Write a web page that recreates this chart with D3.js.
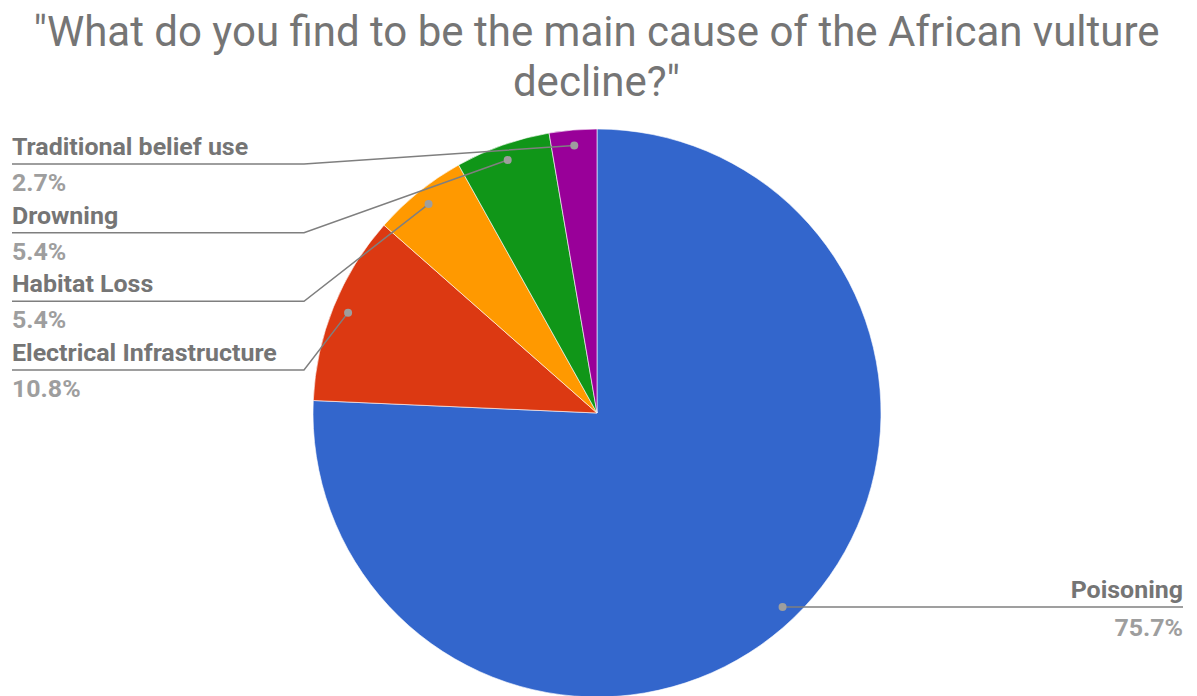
<!DOCTYPE html>
<html lang="en">
<head>
<meta charset="UTF-8">
<title>African vulture decline</title>
<script src="https://d3js.org/d3.v7.min.js"></script>
<style>
    body{margin:0;background:#fff;}
    svg{display:block;font-family:Roboto,"Noto Sans",sans-serif;}
</style>
</head>
<body>
<div id="chart"></div>
<script>
const causes=['Poisoning','Electrical Infrastructure','Habitat Loss','Drowning','Traditional belief use'];
const shares=[75.7,10.8,5.4,5.4,2.7];
const colors=['#3366cc','#dc3912','#ff9900','#109618','#990099'];
const titleLines=['"What do you find to be the main cause of the African vulture','decline?"'];

const width=1197,height=696;
const cx=597,cy=413,R=284;
const sx=1.04; // labels are a touch wider than plain Roboto

const svg=d3.select('#chart').append('svg')
    .attr('width',width).attr('height',height);

// title
svg.append('g')
    .attr('transform',`translate(${width/2-2},0)`)
    .selectAll('text')
    .data(titleLines)
    .join('text')
    .attr('y',(d,i)=>46+i*50)
    .attr('text-anchor','middle')
    .attr('font-size',42)
    .attr('fill','#757575')
    .text(d=>d);

const data=causes.map((c,i)=>({name:c,value:shares[i],color:colors[i]}));
const pie=d3.pie().sort(null).value(d=>d.value);
const arcs=pie(data);
const arc=d3.arc().innerRadius(0).outerRadius(R);
const dotArc=d3.arc().innerRadius(R*0.945).outerRadius(R*0.945);

const g=svg.append('g').attr('transform',`translate(${cx},${cy})`);
g.selectAll('path')
    .data(arcs)
    .join('path')
    .attr('d',arc)
    .attr('fill',d=>d.data.color)
    .attr('stroke','#fff')
    .attr('stroke-width',0.6);

// labels on the left: smallest slice first, going down
const left=arcs.slice(1).reverse();
const rowY=d3.scalePoint().domain(left.map(d=>d.data.name)).range([164,370]);
const elbowX=304;

const lab=svg.append('g');
left.forEach(d=>{
    const [px,py]=dotArc.centroid(d);
    const y=rowY(d.data.name);
    lab.append('polyline')
        .attr('points',`12,${y} ${elbowX},${y} ${cx+px},${cy+py}`)
        .attr('fill','none')
        .attr('stroke','#7f7f7f')
        .attr('stroke-width',1.5);
    lab.append('circle')
        .attr('cx',cx+px).attr('cy',cy+py).attr('r',4)
        .attr('fill','#9e9e9e');
    const t=lab.append('g').attr('transform',`translate(12,${y}) scale(${sx},1)`);
    t.append('text').attr('y',-9).attr('font-size',24).attr('font-weight','bold')
        .attr('fill','#757575').text(d.data.name);
    t.append('text').attr('y',27).attr('font-size',24).attr('font-weight','bold')
        .attr('fill','#9e9e9e').text(d.data.value.toFixed(1)+'%');
});

// label on the right for the big slice
const big=arcs[0];
const [bx,by]=dotArc.centroid(big);
const rightX=1183;
lab.append('line')
    .attr('x1',cx+bx).attr('y1',cy+by)
    .attr('x2',rightX).attr('y2',cy+by)
    .attr('stroke','#7f7f7f')
    .attr('stroke-width',1.5);
lab.append('circle')
    .attr('cx',cx+bx).attr('cy',cy+by).attr('r',4)
    .attr('fill','#9e9e9e');
const rt=lab.append('g').attr('transform',`translate(${rightX},${cy+by}) scale(${sx},1)`);
rt.append('text').attr('y',-9).attr('text-anchor','end').attr('font-size',24).attr('font-weight','bold')
    .attr('fill','#757575').text(big.data.name);
rt.append('text').attr('y',29).attr('text-anchor','end').attr('font-size',24).attr('font-weight','bold')
    .attr('fill','#9e9e9e').text(big.data.value.toFixed(1)+'%');
</script>
</body>
</html>
